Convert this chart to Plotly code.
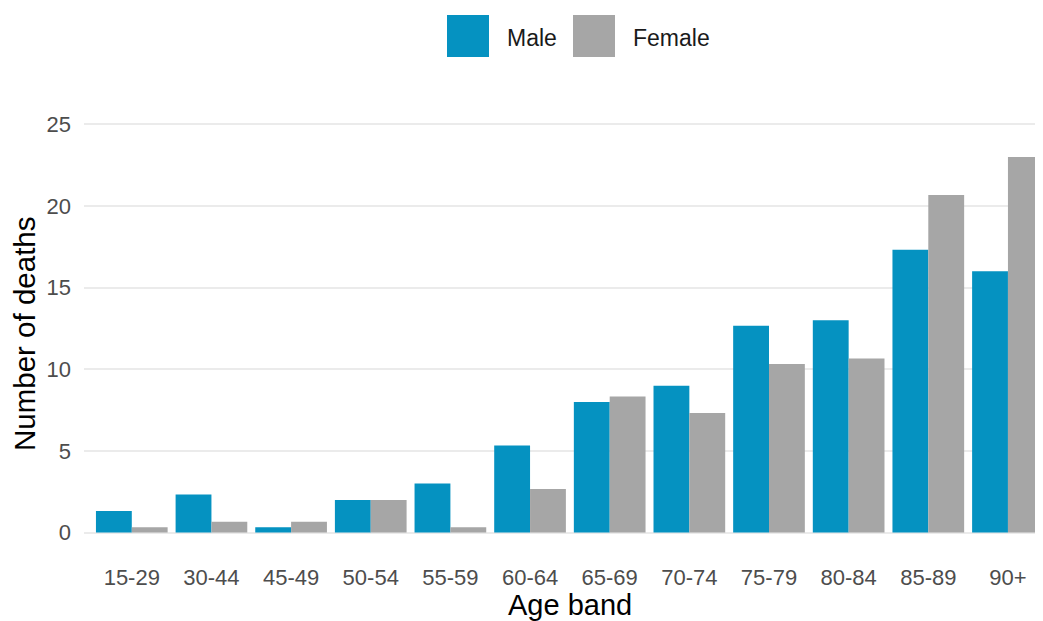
import plotly.graph_objects as go

age_bands = ["15-29", "30-44", "45-49", "50-54", "55-59", "60-64", "65-69",
             "70-74", "75-79", "80-84", "85-89", "90+"]
male = [1.33, 2.33, 0.33, 2.0, 3.0, 5.33, 8.0, 9.0, 12.67, 13.0, 17.33, 16.0]
female = [0.33, 0.67, 0.67, 2.0, 0.33, 2.67, 8.33, 7.33, 10.33, 10.67, 20.67, 23.0]
y_ticks = [0, 5, 10, 15, 20, 25]

MALE_C = "#0592c1"
FEMALE_C = "#a6a6a6"
FONT = "Liberation Sans, Arial, sans-serif"

fig = go.Figure()
fig.add_trace(go.Bar(x=age_bands, y=male, name="Male", marker_color=MALE_C,
                     marker_line_width=0, showlegend=False))
fig.add_trace(go.Bar(x=age_bands, y=female, name="Female", marker_color=FEMALE_C,
                     marker_line_width=0, showlegend=False))

# page body has an 8px margin; figure sized to fit the window
W, H = 1035, 613
L, R, T, B = 76, 0, 96, 68
pw, ph = W - L - R, H - T - B
OFF = 8

def px(x):  # screen x -> paper
    return (x - OFF - L) / pw

def py(y):  # screen y -> paper
    return (H - B - (y - OFF)) / ph

shapes = []
annotations = []
for (x0, label, col) in [(447, "Male", MALE_C), (573, "Female", FEMALE_C)]:
    shapes.append(dict(type="rect", xref="paper", yref="paper",
                       x0=px(x0), x1=px(x0 + 42), y0=py(57), y1=py(15),
                       fillcolor=col, line=dict(width=0)))
    annotations.append(dict(text=label, xref="paper", yref="paper",
                            x=px(x0 + 58), y=py(38), xanchor="left", yanchor="middle",
                            showarrow=False, font=dict(size=23, color="#1a1a1a", family=FONT)))

# axis titles
annotations.append(dict(text="Age band", xref="paper", yref="paper",
                        x=px(570), y=py(605), xanchor="center", yanchor="middle",
                        showarrow=False, font=dict(size=29, color="black", family=FONT)))
annotations.append(dict(text="Number of deaths", xref="paper", yref="paper",
                        x=px(24), y=py(334), xanchor="center", yanchor="middle",
                        textangle=-90, showarrow=False,
                        font=dict(size=29.5, color="black", family=FONT)))

fig.update_layout(
    width=W, height=H,
    margin=dict(l=L, r=R, t=T, b=B),
    barmode="group", bargap=0.1, bargroupgap=0,
    plot_bgcolor="white", paper_bgcolor="white",
    font=dict(family=FONT),
    shapes=shapes, annotations=annotations,
    xaxis=dict(range=[-0.6, 11.44], showgrid=False, zeroline=False,
               tickfont=dict(size=22, color="#4d4d4d"), ticks="",
               ticklabelstandoff=9),
    yaxis=dict(range=[-1.25, 26.25], tickvals=y_ticks, showgrid=True,
               gridcolor="#ebebeb", gridwidth=2, zeroline=False,
               tickfont=dict(size=22, color="#4d4d4d"), ticks="",
               ticklabelstandoff=12),
)

fig.write_html("out.html")
